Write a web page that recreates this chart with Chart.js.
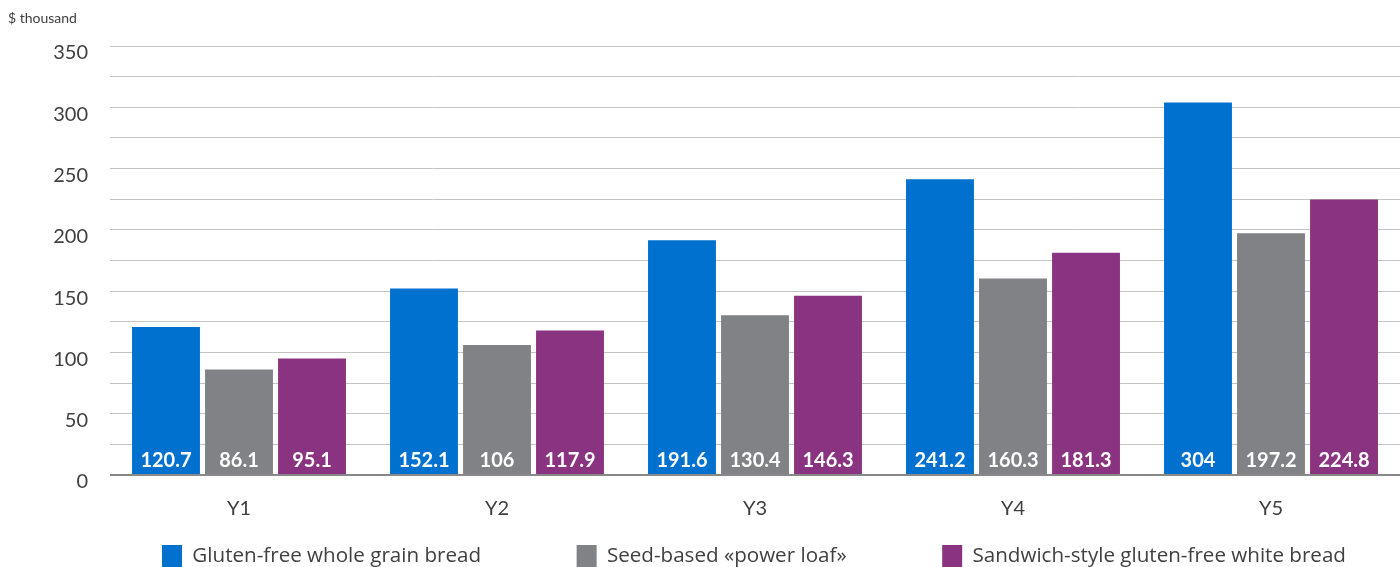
<!DOCTYPE html>
<html>
<head>
<meta charset="utf-8">
<script src="https://cdn.jsdelivr.net/npm/chart.js@4.4.1/dist/chart.umd.min.js"></script>
<style>
  html, body { margin: 0; padding: 0; background: #fff; }
  #wrap { width: 1400px; height: 567px; position: relative; }
</style>
</head>
<body>
<div id="wrap"><canvas id="myChart"></canvas></div>
<script>
const years = ["Y1", "Y2", "Y3", "Y4", "Y5"];
const wholeGrain = [120.7, 152.1, 191.6, 241.2, 304];
const powerLoaf = [86.1, 106, 130.4, 160.3, 197.2];
const sandwichWhite = [95.1, 117.9, 146.3, 181.3, 224.8];
const seriesNames = ["Gluten-free whole grain bread", "Seed-based «power loaf»", "Sandwich-style gluten-free white bread"];
const unitLabel = "$ thousand";

const FONT = "Lato, 'Open Sans', sans-serif";
const LEGEND_FONT = "'Open Sans', sans-serif";
const LEGEND_SIZE = 20.6;

// pad legend text with spaces so the items sit as far apart as in the picture
const measure = document.createElement("canvas").getContext("2d");
measure.font = `${LEGEND_SIZE}px ${LEGEND_FONT}`;
function padText(txt, gap){
    let s = txt;
    while(measure.measureText(s).width - measure.measureText(txt).width < gap) s += " ";
    return s;
}

// white value labels at the bottom of each bar + the unit text top left
const barLabels = {
    id: "barLabels",
    afterLayout(chart){
        // legend in the picture is centred a bit right of the canvas centre
        chart.legend.left += 108;
    },
    afterDatasetsDraw(chart){
        const ctx = chart.ctx;
        ctx.save();
        ctx.font = `bold 20px ${FONT}`;
        ctx.fillStyle = "#fff";
        ctx.textAlign = "center";
        ctx.textBaseline = "middle";
        chart.data.datasets.forEach((ds, i) => {
            chart.getDatasetMeta(i).data.forEach((bar, j) => {
                ctx.fillText(String(ds.data[j]), bar.x, chart.scales.y.getPixelForValue(0) - 14);
            });
        });
        ctx.font = `14px ${FONT}`;
        ctx.fillStyle = "#404040";
        ctx.textAlign = "left";
        ctx.fillText(unitLabel, 8, 18);
        ctx.restore();
    }
};

new Chart(document.getElementById("myChart"), {
    type: "bar",
    data: {
        labels: years,
        datasets: [
            { label: seriesNames[0], data: wholeGrain, backgroundColor: "#0071CE" },
            { label: seriesNames[1], data: powerLoaf, backgroundColor: "#818286" },
            { label: seriesNames[2], data: sandwichWhite, backgroundColor: "#8A3380" }
        ]
    },
    options: {
        responsive: true,
        maintainAspectRatio: false,
        animation: false,
        layout: { padding: { top: 46, right: 0, bottom: -10, left: 0 } },
        datasets: { bar: { categoryPercentage: 0.849, barPercentage: 0.93 } },
        scales: {
            x: {
                grid: { display: false },
                border: { display: false },
                ticks: { color: "#404040", font: { family: FONT, size: 20 }, padding: 14 }
            },
            y: {
                min: 0,
                max: 350,
                afterFit(s){ s.width = 110; },
                border: { display: false },
                grid: {
                    color: (c) => c.tick && c.tick.value === 0 ? "#888" : "#c4c4c4",
                    lineWidth: (c) => c.tick && c.tick.value === 0 ? 2 : 1,
                    drawTicks: false
                },
                ticks: {
                    stepSize: 25,
                    autoSkip: false,
                    padding: 22,
                    labelOffset: 7,
                    color: "#404040",
                    font: { family: FONT, size: 20 },
                    callback: (v) => v % 50 === 0 ? v : ""
                }
            }
        },
        plugins: {
            tooltip: { enabled: false },
            legend: {
                position: "bottom",
                labels: {
                    boxWidth: 20,
                    boxHeight: 22,
                    padding: 10,
                    color: "#404040",
                    font: { family: LEGEND_FONT, size: LEGEND_SIZE },
                    generateLabels(chart){
                        const items = Chart.defaults.plugins.legend.labels.generateLabels(chart);
                        items.forEach((it, i) => {
                            it.lineWidth = 0;
                            if(i < items.length - 1) it.text = padText(it.text, 85);
                        });
                        return items;
                    }
                }
            }
        }
    },
    plugins: [barLabels]
});
</script>
</body>
</html>
